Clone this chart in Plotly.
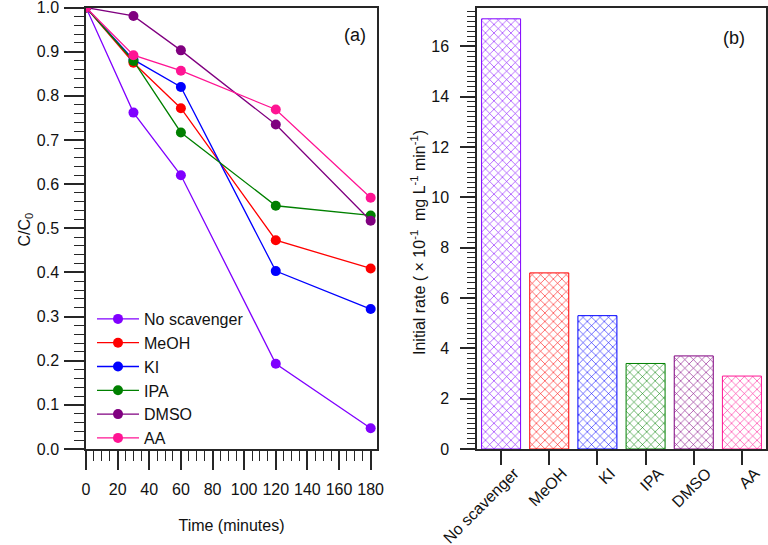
import plotly.graph_objects as go

# ---- data panel (a) ----
time_min = [0, 30, 60, 120, 180]
series_names = ["No scavenger", "MeOH", "KI", "IPA", "DMSO", "AA"]
no_scavenger = [1.0, 0.762, 0.620, 0.193, 0.047]
meoh = [1.0, 0.875, 0.772, 0.473, 0.409]
ki = [1.0, 0.882, 0.820, 0.403, 0.317]
ipa = [1.0, 0.879, 0.717, 0.551, 0.529]
dmso = [1.0, 0.981, 0.903, 0.735, 0.517]
aa = [1.0, 0.892, 0.857, 0.769, 0.569]

# ---- data panel (b) ----
categories = ["No scavenger", "MeOH", "KI", "IPA", "DMSO", "AA"]
initial_rate = [17.1, 7.0, 5.3, 3.4, 3.7, 2.9]

colors = ["#8000FF", "#FF0000", "#0000FF", "#008000", "#800080", "#FF1493"]
series_values = [no_scavenger, meoh, ki, ipa, dmso, aa]

W, H = 768, 545
def px(x):
    return x / W
def py(y):
    return 1 - y / H

FONT = "Arial, Liberation Sans, sans-serif"
AXC = "#262626"

fig = go.Figure()

for i, (name, vals) in enumerate(zip(series_names, series_values)):
    fig.add_trace(go.Scatter(
        x=time_min, y=vals, name=name, mode="lines+markers",
        line=dict(color=colors[i], width=1.3),
        marker=dict(color=colors[i], size=10),
        xaxis="x", yaxis="y",
    ))

for i, (cat, val) in enumerate(zip(categories, initial_rate)):
    fig.add_trace(go.Bar(
        x=[cat], y=[val], showlegend=False,
        marker=dict(
            color="white",
            line=dict(color=colors[i], width=1),
            pattern=dict(shape="x", fgcolor=colors[i], bgcolor="white",
                         size=6, solidity=0.18, fillmode="replace"),
        ),
        xaxis="x2", yaxis="y2",
    ))

common = dict(showline=True, linecolor=AXC, linewidth=1.5, mirror=True,
              ticks="outside", tickcolor=AXC, showgrid=False, zeroline=False,
              automargin=False, ticklabeloverflow="allow",
              tickfont=dict(family=FONT, size=16, color="#111"))

fig.update_layout(
    width=W, height=H,
    margin=dict(l=0, r=0, t=0, b=0, autoexpand=False),
    plot_bgcolor="white", paper_bgcolor="white",
    font=dict(family=FONT, size=16, color="#111"),
    bargap=0.19,
    showlegend=True,
    legend=dict(x=px(92), y=py(302), xanchor="left", yanchor="top",
                bgcolor="rgba(0,0,0,0)", tracegroupgap=0, itemwidth=42,
                font=dict(family=FONT, size=16, color="#111")),
    xaxis=dict(domain=[px(86), px(377)], range=[0, 184], anchor="y",
               dtick=20, ticklen=19, tickwidth=1.5,
               minor=dict(dtick=5, ticklen=10, ticks="outside", tickcolor=AXC, tickwidth=1.2),
               ticklabelstandoff=6,
               title=dict(text="Time (minutes)", standoff=23,
                          font=dict(family=FONT, size=16)),
               **common),
    yaxis=dict(domain=[py(449), py(7.5)], range=[0, 1.0001], anchor="x",
               tickvals=[0, 0.1, 0.2, 0.3, 0.4, 0.5, 0.6, 0.7, 0.8, 0.9, 1.0],
               tickformat=".1f", ticklen=20, tickwidth=1.5,
               minor=dict(dtick=0.02, ticklen=10, ticks="outside", tickcolor=AXC, tickwidth=1.2),
               ticklabelstandoff=2,
               **common),
    xaxis2=dict(domain=[px(477), px(766)], range=[-0.5, 5.5], anchor="y2",
                type="category", ticklen=14, tickwidth=1.5, tickangle=-45,
                ticklabelstandoff=-7, ticklabelshift=13,
                **common),
    yaxis2=dict(domain=[py(449), py(7.5)], range=[0, 17.55], anchor="x2",
                dtick=2, ticklen=15, tickwidth=1.5,
                minor=dict(dtick=0.2, ticklen=8, ticks="outside", tickcolor=AXC, tickwidth=1.2),
                ticklabelstandoff=8,
                **common),
    annotations=[
        dict(text="(a)", x=px(355), y=py(23), xref="paper", yref="paper",
             showarrow=False, font=dict(family=FONT, size=18, color="#111")),
        dict(text="(b)", x=px(747), y=py(26), xref="paper", yref="paper",
             showarrow=False, font=dict(family=FONT, size=18, color="#111")),
        dict(text="C/C<sub>0</sub>", x=px(13), y=py(230), xref="paper", yref="paper",
             textangle=-90, showarrow=False, font=dict(family=FONT, size=16, color="#111")),
        dict(text="Initial rate ( \u00d7 10<sup>-1</sup>  mg L<sup>-1</sup> min<sup>-1</sup>)",
             x=px(418), y=py(243), xref="paper", yref="paper",
             textangle=-90, showarrow=False, font=dict(family=FONT, size=16, color="#111")),
    ],
)

fig.write_html("out.html", config={"displayModeBar": False},
               post_script="document.body.style.margin='0';document.body.style.overflow='hidden';")
